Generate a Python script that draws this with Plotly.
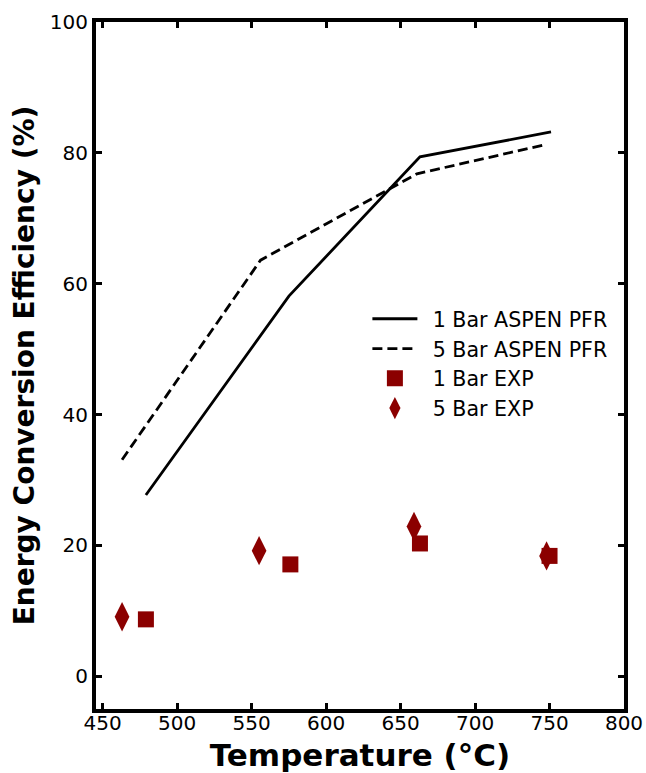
import plotly.graph_objects as go

t1_aspen = [479, 575, 663, 751]
e1_aspen = [27.7, 58.1, 79.4, 83.2]
t5_aspen = [463, 556, 661, 748]
e5_aspen = [33.1, 63.6, 76.8, 81.3]
t1_exp = [479, 576, 663, 750]
e1_exp = [8.7, 17.1, 20.3, 18.4]
t5_exp = [463, 555, 659, 748]
e5_exp = [9.1, 19.2, 22.9, 18.4]

red = "#8b0000"
sp = "\u2002"
fig = go.Figure()
fig.add_trace(go.Scatter(x=t1_aspen, y=e1_aspen, mode="lines", name=sp + "1 Bar ASPEN PFR",
                         line=dict(color="black", width=2.8)))
fig.add_trace(go.Scatter(x=t5_aspen, y=e5_aspen, mode="lines", name=sp + "5 Bar ASPEN PFR",
                         line=dict(color="black", width=2.8, dash="10px,5px")))
fig.add_trace(go.Scatter(x=t1_exp, y=e1_exp, mode="markers", name=sp + "1 Bar EXP",
                         marker=dict(color=red, symbol="square", size=16)))
fig.add_trace(go.Scatter(x=t5_exp, y=e5_exp, mode="markers", name=sp + "5 Bar EXP",
                         marker=dict(color=red, symbol="diamond-tall", size=21)))

axis_common = dict(showline=True, linecolor="black", linewidth=4, mirror="ticks",
                   ticks="inside", ticklen=6, tickwidth=3, tickcolor="black",
                   showgrid=False, zeroline=False, automargin=False,
                   tickfont=dict(family="DejaVu Sans", size=20, color="black"))
fig.update_xaxes(range=[445.5, 800], tickvals=[450, 500, 550, 600, 650, 700, 750, 800],
                 ticklabelstandoff=-7,
                 title=dict(text="<b>Temperature (°C)</b>", font=dict(family="DejaVu Sans", size=31, color="black"), standoff=14),
                 **axis_common)
fig.update_yaxes(range=[-5, 100], tickvals=[0, 20, 40, 60, 80, 100],
                 title=dict(text="<b>Energy Conversion Efficiency (%)</b>", font=dict(family="DejaVu Sans", size=28, color="black"), standoff=8),
                 **axis_common)
fig.update_layout(width=646, height=773, plot_bgcolor="white", paper_bgcolor="white",
                  margin=dict(l=95.5, r=21.5, t=22, b=64),
                  font=dict(family="DejaVu Sans", color="black"),
                  legend=dict(x=0.514, y=0.597, xanchor="left", yanchor="top",
                              font=dict(family="DejaVu Sans", size=20.6, color="black"),
                              bgcolor="rgba(0,0,0,0)", itemwidth=45, tracegroupgap=0))
fig.write_html("out.html")
